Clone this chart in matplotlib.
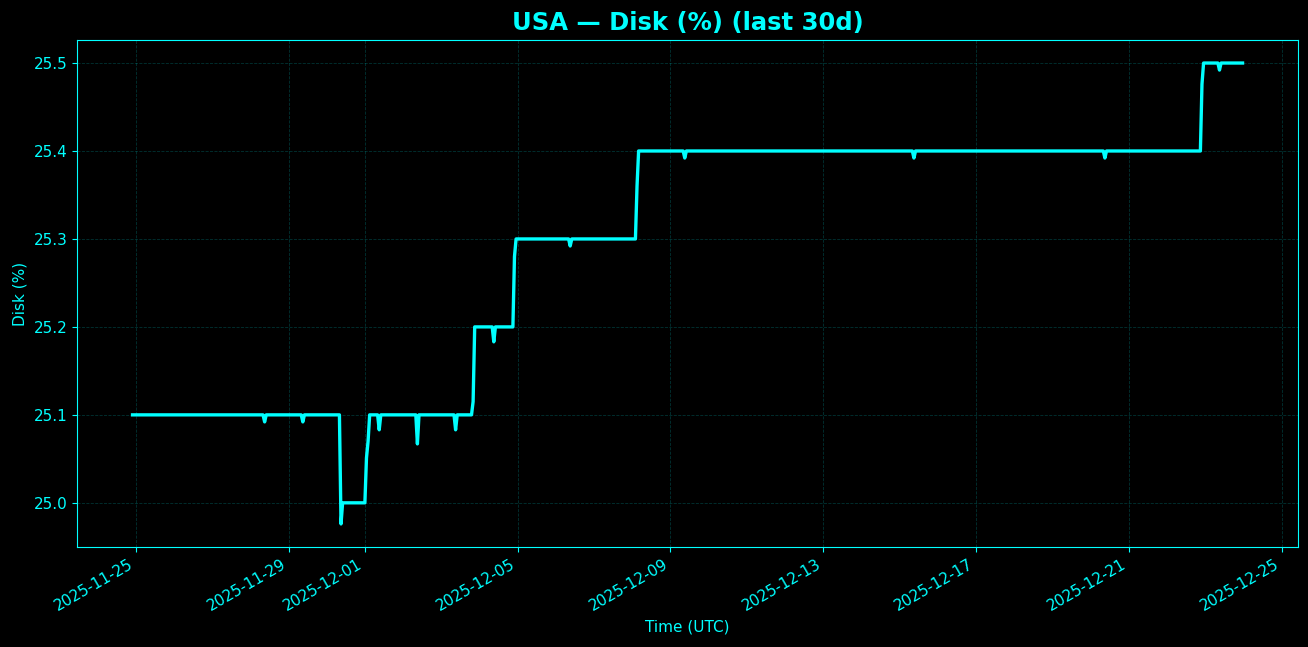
import pandas as pd
import matplotlib
matplotlib.use("Agg")
import matplotlib.pyplot as plt
import matplotlib.dates as mdates

CYAN = "#00ffff"

# Disk usage samples (hourly, only vertices where the value changes are listed)
times = [
    "2025-11-24 22:00",
    "2025-11-28 08:00", "2025-11-28 09:00", "2025-11-28 10:00",
    "2025-11-29 08:00", "2025-11-29 09:00", "2025-11-29 10:00",
    "2025-11-30 08:00", "2025-11-30 09:00", "2025-11-30 10:00",
    "2025-12-01 00:00", "2025-12-01 01:00", "2025-12-01 02:00", "2025-12-01 03:00",
    "2025-12-01 08:00", "2025-12-01 09:00", "2025-12-01 10:00",
    "2025-12-02 08:00", "2025-12-02 09:00", "2025-12-02 10:00",
    "2025-12-03 08:00", "2025-12-03 09:00", "2025-12-03 10:00",
    "2025-12-03 19:00", "2025-12-03 20:00", "2025-12-03 21:00",
    "2025-12-04 08:00", "2025-12-04 09:00", "2025-12-04 10:00",
    "2025-12-04 21:00", "2025-12-04 22:00", "2025-12-04 23:00",
    "2025-12-06 08:00", "2025-12-06 09:00", "2025-12-06 10:00",
    "2025-12-08 02:00", "2025-12-08 03:00", "2025-12-08 04:00",
    "2025-12-09 08:00", "2025-12-09 09:00", "2025-12-09 10:00",
    "2025-12-15 08:00", "2025-12-15 09:00", "2025-12-15 10:00",
    "2025-12-20 08:00", "2025-12-20 09:00", "2025-12-20 10:00",
    "2025-12-22 21:00", "2025-12-22 22:00", "2025-12-22 23:00",
    "2025-12-23 08:00", "2025-12-23 09:00", "2025-12-23 10:00",
    "2025-12-23 23:30",
]
disk_pct = [
    25.1,
    25.1, 25.092, 25.1,
    25.1, 25.092, 25.1,
    25.1, 24.976, 25.0,
    25.0, 25.051, 25.07, 25.1,
    25.1, 25.083, 25.1,
    25.1, 25.067, 25.1,
    25.1, 25.083, 25.1,
    25.1, 25.115, 25.2,
    25.2, 25.183, 25.2,
    25.2, 25.28, 25.3,
    25.3, 25.292, 25.3,
    25.3, 25.36, 25.4,
    25.4, 25.392, 25.4,
    25.4, 25.392, 25.4,
    25.4, 25.392, 25.4,
    25.4, 25.476, 25.5,
    25.5, 25.492, 25.5,
    25.5,
]

ts = pd.to_datetime(times)

fig = plt.figure(figsize=(13.08, 6.47), dpi=100, facecolor="black")
ax = fig.add_subplot(111)
fig.subplots_adjust(left=0.0589, right=0.9924, top=0.9382, bottom=0.1546)
ax.set_facecolor("black")

ax.plot(ts, disk_pct, color=CYAN, linewidth=2.4)

ax.set_title("USA — Disk (%) (last 30d)", color=CYAN, fontsize=17.5, fontweight="bold", pad=7)
ax.set_xlabel("Time (UTC)", color=CYAN, fontsize=11)
ax.set_ylabel("Disk (%)", color=CYAN, fontsize=11)

ax.xaxis.set_major_locator(mdates.DayLocator(bymonthday=range(1, 32, 4)))
ax.xaxis.set_major_formatter(mdates.DateFormatter("%Y-%m-%d"))
ax.set_yticks([25.0, 25.1, 25.2, 25.3, 25.4, 25.5])

ax.tick_params(colors=CYAN, labelsize=11)
for s in ax.spines.values():
    s.set_color(CYAN)
ax.grid(True, color=CYAN, alpha=0.2, linestyle="--", linewidth=0.6)

for lbl in ax.get_xticklabels():
    lbl.set_rotation(30)
    lbl.set_ha("right")

fig.savefig("out.png", dpi=100, facecolor=fig.get_facecolor())
